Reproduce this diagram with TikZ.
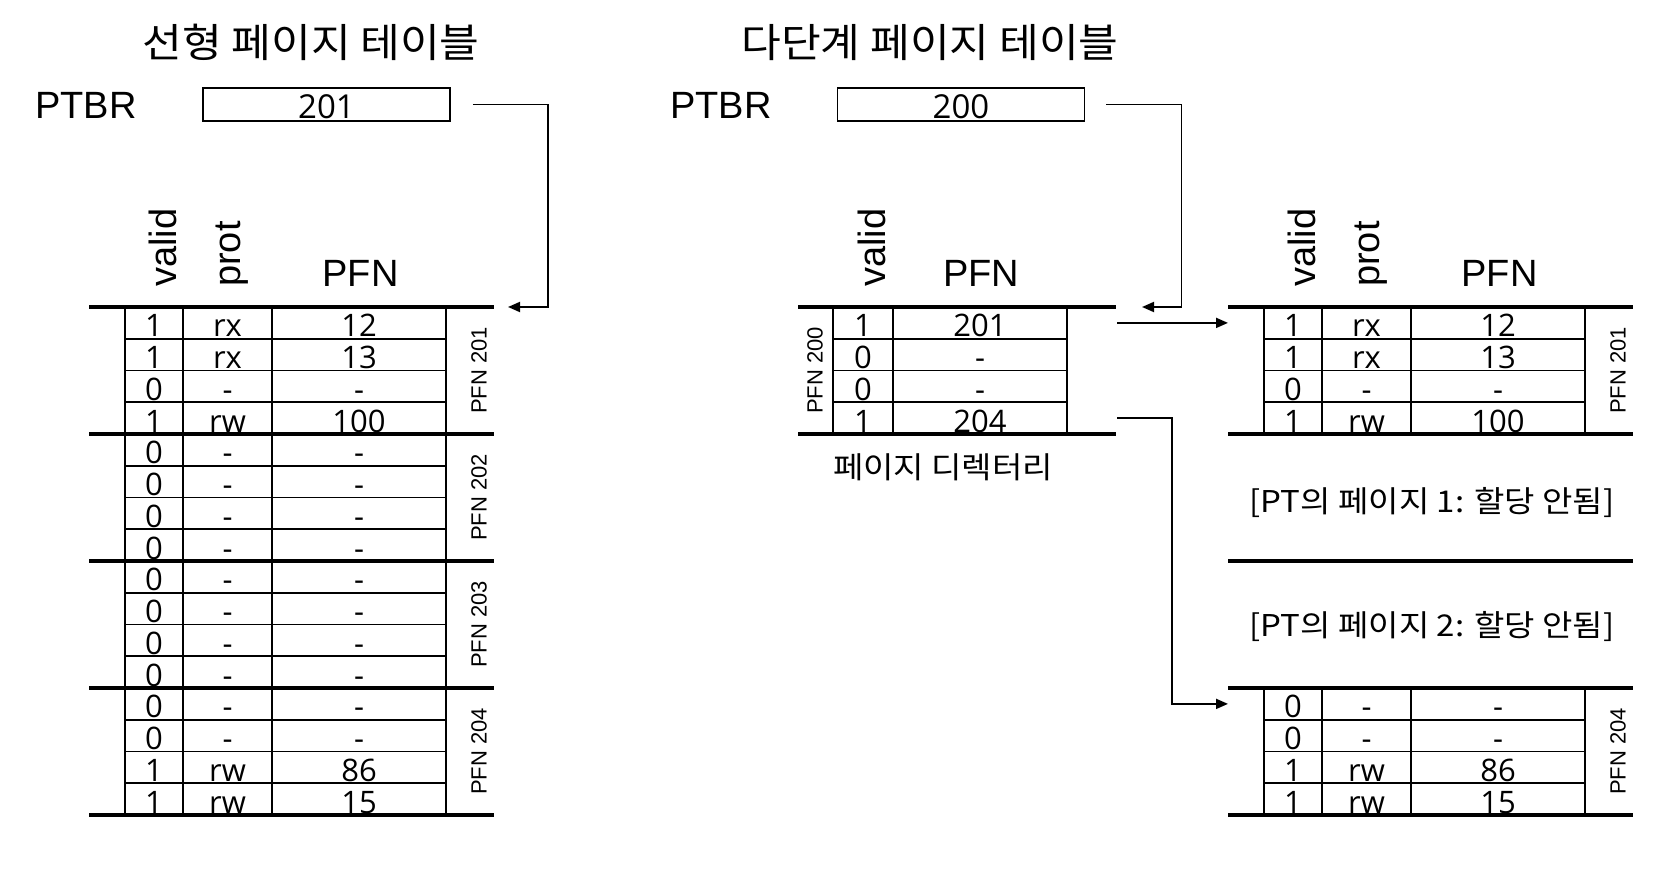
\documentclass[tikz,border=0pt]{standalone}
\usepackage{fontspec}
\setmainfont{Liberation Sans}
\newfontfamily\krfont{Noto Sans CJK KR}
\newfontfamily\numfont{Open Sans}
\usetikzlibrary{arrows.meta}
\newcommand\pagegroup[5]{%
  \foreach \v/\p/\f [count=\i] in {#5}{%
    \pgfmathsetmacro\yb{#2+\i*31.75}%
    \node[cell] (#3-v\i) at (#1+65,\yb-2) {\v};
    \node[cell] (#3-p\i) at (#1+138.5,\yb-2) {\p};
    \node[cell] (#3-f\i) at (#1+270,\yb-2) {\f};
    \ifnum\i<4 \draw[tblrule] (#1+36,\yb) -- (#1+357,\yb);\fi
  }%
  \foreach \cx in {36,94,183,357}{\draw[tblrule] (#1+\cx,#2) -- (#1+\cx,#2+127);}%
  \node[pfnlbl] (#3-lbl) at (#1+390,#2+63.5) {#4};%
}
\begin{document}
\begin{tikzpicture}[x=1pt,y=-1pt,
  tblheavy/.style={line width=3.6pt},
  tblrule/.style={line width=1.8pt},
  cell/.style={font=\numfont\fontsize{31}{31}\selectfont,inner sep=0pt,anchor=base},
  boxnum/.style={font=\numfont\fontsize{33}{33}\selectfont,inner sep=0pt,anchor=base},
  hdr/.style={font=\fontsize{38}{38}\selectfont,inner sep=0pt},
  vhdr/.style={hdr,rotate=90,anchor=base west},
  pfnlbl/.style={font=\fontsize{22}{22}\selectfont,inner sep=0pt,rotate=90,anchor=center},
  kor/.style={font=\krfont\fontsize{30}{30}\selectfont,inner sep=0pt,anchor=base,xscale=1.1},
  ttl/.style={font=\krfont\fontsize{40}{40}\selectfont,inner sep=0pt,anchor=base,xscale=1.08},
  regbox/.style={draw,line width=1.8pt,minimum width=247pt,minimum height=33pt,inner sep=0pt},
  conn/.style={line width=1.8pt,-{Triangle[length=12pt,width=10pt]}},
]
\path[use as bounding box] (0,0) rectangle (1676,874);

% titles
\node[ttl] (t1) at (311,58) {선형 페이지 테이블};
\node[ttl] (t2) at (930,58) {다단계 페이지 테이블};

% PTBR registers
\node[hdr,anchor=base] (ptbrL) at (86,119) {PTBR};
\node[regbox] (boxL) at (326.5,104.5) {};
\node[boxnum] (boxLn) at (326.5,119) {201};
\node[hdr,anchor=base] (ptbrR) at (721,119) {PTBR};
\node[regbox] (boxR) at (961,104.5) {};
\node[boxnum] (boxRn) at (961,119) {200};

% left (linear) table
\node[vhdr] (lv) at (176,287) {valid};
\node[vhdr] (lp) at (240,287) {prot};
\node[hdr,anchor=base] (lf) at (360.5,287) {PFN};
\foreach \yy in {307,434,561,688,815} \draw[tblheavy] (89,\yy) -- (494,\yy);
\pagegroup{89}{307}{L1}{PFN 201}{1/rx/12,1/rx/13,0/-/-,1/rw/100}
\pagegroup{89}{434}{L2}{PFN 202}{0/-/-,0/-/-,0/-/-,0/-/-}
\pagegroup{89}{561}{L3}{PFN 203}{0/-/-,0/-/-,0/-/-,0/-/-}
\pagegroup{89}{688}{L4}{PFN 204}{0/-/-,0/-/-,1/rw/86,1/rw/15}

% page directory
\node[vhdr] (dv) at (885,287) {valid};
\node[hdr,anchor=base] (df) at (981,287) {PFN};
\draw[tblheavy] (798,307) -- (1116,307);
\draw[tblheavy] (798,434) -- (1116,434);
\foreach \v/\f [count=\i] in {1/201,0/-,0/-,1/204}{%
  \pgfmathsetmacro\yb{307+\i*31.75}%
  \node[cell] (D-v\i) at (863,\yb-2) {\v};
  \node[cell] (D-f\i) at (980,\yb-2) {\f};
  \ifnum\i<4 \draw[tblrule] (833,\yb) -- (1067,\yb);\fi
}
\foreach \cx in {833,893,1067}{\draw[tblrule] (\cx,307) -- (\cx,434);}
\node[pfnlbl] (D-lbl) at (815,370.5) {PFN 200};
\node[kor] (dirlbl) at (943,478) {페이지 디렉터리};

% right (multi-level) page tables
\node[vhdr] (rv) at (1315,287) {valid};
\node[vhdr] (rp) at (1379,287) {prot};
\node[hdr,anchor=base] (rf) at (1499.5,287) {PFN};
\foreach \yy in {307,434,561,688,815} \draw[tblheavy] (1228,\yy) -- (1633,\yy);
\pagegroup{1228}{307}{R1}{PFN 201}{1/rx/12,1/rx/13,0/-/-,1/rw/100}
\pagegroup{1228}{688}{R4}{PFN 204}{0/-/-,0/-/-,1/rw/86,1/rw/15}
\node[kor] (np1) at (1432,512) {[PT의 페이지 1: 할당 안됨]};
\node[kor] (np2) at (1432,636) {[PT의 페이지 2: 할당 안됨]};

% connectors
\coordinate (aL) at (508,307);
\draw[conn] ([xshift=22pt]boxL.east) -- ++(75,0) |- (aL);
\coordinate (aR) at (1142,307);
\draw[conn] ([xshift=21pt]boxR.east) -- ++(75,0) |- (aR);
\coordinate (d1s) at (1117,322.9);
\coordinate (d1e) at (1228,322.9);
\draw[conn] (d1s) -- (d1e);
\coordinate (d4s) at (1117,418.1);
\coordinate (d4e) at (1228,703.9);
\draw[conn] (d4s) -- (1172,418.1) |- (d4e);
\end{tikzpicture}
\end{document}
